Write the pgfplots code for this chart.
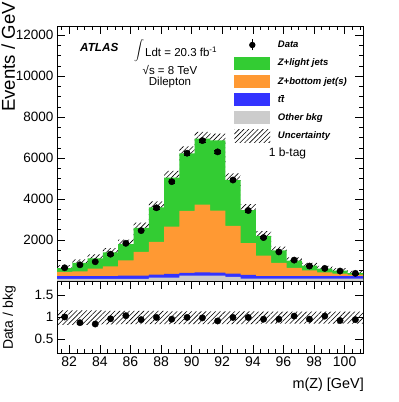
\documentclass[border=0pt]{standalone}
\usepackage{pgfplots}
\usepackage{pgfplotstable}
\pgfplotsset{compat=1.18}
\usepackage{fontspec}
\setmainfont{Liberation Sans}
\usetikzlibrary{patterns.meta}
\usepgfplotslibrary{fillbetween}

\definecolor{zlight}{RGB}{51,204,51}
\definecolor{zbot}{RGB}{255,153,51}
\definecolor{ttb}{RGB}{51,51,255}
\definecolor{oth}{RGB}{204,204,204}
\tikzset{hatch/.style={pattern={Lines[angle=45,distance=3.4pt,line width=0.6pt]}, pattern color=black}}

% bin left edges, stacked (cumulative) tops, uncertainty band
\pgfplotstableread{
x     tot  orng blue grey up   lo
81.2  625  446  233  107  775  475
82.2  880  475  233  107  1050 710
83.2  1110 606  233  107  1300 920
84.2  1400 718  233  107  1600 1200
85.2  1800 1009 267  107  2020 1580
86.2  2590 1416 267  107  2850 2330
87.2  3590 1916 315  170  3890 3290
88.2  5050 2658 350  170  5380 4720
89.2  6230 3419 398  267  6570 5890
90.2  6950 3725 427  267  7280 6620
91.2  6870 3434 412  267  7200 6540
92.2  4930 2692 364  204  5250 4610
93.2  3460 1853 300  121  3750 3170
94.2  2200 1237 233  121  2430 1970
95.2  1490 883  233  121  1680 1300
96.2  990  640  233  121  1150 830
97.2  750  524  233  121  890  610
98.2  605  427  233  121  735  475
99.2  505  364  233  121  625  385
100.2 385  315  233  121  495  275
101.2 385  315  233  121  495  275
}\mc

\pgfplotstableread{
xc    d    e   r
81.7  645  25  1.00
82.7  790  28  0.87
83.7  940  31  0.84
84.7  1310 36  0.96
85.7  1840 43  1.03
86.7  2460 50  0.94
87.7  3575 60  0.99
88.7  4850 70  0.95
89.7  6240 79  0.99
90.7  6855 83  0.98
91.7  6305 79  0.91
92.7  4930 70  0.99
93.7  3440 59  0.99
94.7  2120 46  0.95
95.7  1420 38  0.95
96.7  1020 32  1.02
97.7  730  27  0.95
98.7  615  25  1.02
99.7  485  22  0.92
100.7 373  19  0.94
}\dat

\pgfplotstableread{
x     rup  rlo
81.2  1.15 0.82
82.2  1.15 0.82
83.2  1.15 0.83
84.2  1.14 0.83
85.2  1.14 0.84
86.2  1.14 0.84
87.2  1.14 0.84
88.2  1.13 0.84
89.2  1.13 0.84
90.2  1.13 0.84
91.2  1.13 0.84
92.2  1.13 0.84
93.2  1.13 0.84
94.2  1.12 0.85
95.2  1.12 0.85
96.2  1.12 0.85
97.2  1.12 0.85
98.2  1.12 0.85
99.2  1.12 0.85
100.2 1.12 0.85
101.2 1.12 0.85
}\rat

\pgfplotsset{
  rootstyle/.style={
    scale only axis, width=306pt,
    xmin=81.2, xmax=101.2,
    xtick={82,84,86,88,90,92,94,96,98,100},
    minor xtick={81.5,82,...,101},
    tick align=inside,
    major tick length=8pt, minor tick length=4pt,
    tick style={black, line width=0.6pt},
    axis line style={line width=0.8pt},
    scaled y ticks=false, scaled x ticks=false,
    /pgf/number format/assume math mode=true,
    clip=true,
  }
}

\begin{document}
\begin{tikzpicture}

\begin{axis}[rootstyle,
  at={(57pt,121pt)}, anchor=south west, height=255pt,
  ymin=0, ymax=12450,
  xticklabels={},
  ytick={0,2000,4000,6000,8000,10000,12000},
  yticklabels={,2000,4000,6000,8000,10000,12000},
  minor ytick={0,500,...,12000},
  yticklabel style={font=\fontsize{13.5}{14}\selectfont},
  legend cell align=left,
  legend style={at={(axis description cs:0.5794,0.951)}, anchor=north west,
    draw=none, fill=none, inner sep=0pt, outer sep=0pt,
    row sep=5.2pt,
    font=\fontsize{9.5}{11}\selectfont\bfseries\itshape,
    nodes={inner sep=0pt},
    /tikz/every odd column/.append style={column sep=7.6pt}},
]
\addplot[const plot, fill=zlight, draw=none, forget plot] table[x=x,y=tot]{\mc} \closedcycle;
\addplot[const plot, fill=zbot, draw=none, forget plot] table[x=x,y=orng]{\mc} \closedcycle;
\addplot[const plot, fill=ttb, draw=none, forget plot] table[x=x,y=blue]{\mc} \closedcycle;
\addplot[const plot, fill=oth, draw=none, forget plot] table[x=x,y=grey]{\mc} \closedcycle;
\addplot[name path=up, const plot, draw=none, forget plot] table[x=x,y=up]{\mc};
\addplot[name path=lo, const plot, draw=none, forget plot] table[x=x,y=lo]{\mc};
\addplot[hatch, draw=none, forget plot] fill between[of=up and lo];
\addplot[only marks, mark=*, mark size=3.2pt, black, forget plot,
  error bars/.cd, y dir=both, y explicit, error bar style={line width=0.8pt}]
  table[x=xc, y=d, y error=e]{\dat};

\addlegendimage{legend image code/.code={\path[draw=none,fill=none] (0pt,-6.5pt) rectangle (36pt,6.5pt); \draw[black, line width=0.8pt] (18pt,-5.5pt)--(18pt,5.5pt); \fill[black, draw=none] (18pt,0pt) circle (3.2pt);}}
\addlegendentry{Data}
\addlegendimage{legend image code/.code={\fill[zlight, draw=none] (0pt,-6.5pt) rectangle (36pt,6.5pt);}}
\addlegendentry{Z+light jets}
\addlegendimage{legend image code/.code={\fill[zbot, draw=none] (0pt,-6.5pt) rectangle (36pt,6.5pt);}}
\addlegendentry{Z+bottom jet(s)}
\addlegendimage{legend image code/.code={\fill[ttb, draw=none] (0pt,-6.5pt) rectangle (36pt,6.5pt);}}
\addlegendentry{t$\overline{\mbox{t}}$}
\addlegendimage{legend image code/.code={\fill[oth, draw=none] (0pt,-6.5pt) rectangle (36pt,6.5pt);}}
\addlegendentry{Other bkg}
\addlegendimage{legend image code/.code={\path[hatch, draw=none] (0pt,-6.5pt) rectangle (36pt,6.5pt);}}
\addlegendentry{Uncertainty}
\end{axis}

\begin{axis}[rootstyle,
  at={(57pt,49pt)}, anchor=south west, height=72pt,
  ymin=0.18, ymax=1.82,
  xticklabels={82,84,86,88,90,92,94,96,98,100},
  ytick={0.5,1,1.5}, yticklabels={0.5,1,1.5},
  xticklabel style={font=\fontsize{14}{15}\selectfont},
  yticklabel style={font=\fontsize{13.5}{14}\selectfont},
]
\addplot[name path=rup, const plot, draw=none] table[x=x,y=rup]{\rat};
\addplot[name path=rlo, const plot, draw=none] table[x=x,y=rlo]{\rat};
\addplot[hatch, draw=none] fill between[of=rup and rlo];
\addplot[only marks, mark=*, mark size=3.2pt, black] table[x=xc, y=r]{\dat};
\end{axis}

% texts
\node[anchor=base west, font=\fontsize{11.7}{12}\selectfont\bfseries\itshape, inner sep=0pt] at (80pt,350.3pt) {ATLAS};
\node[anchor=center, inner sep=0pt, font=\fontsize{12.5}{13}\selectfont] at (139pt,351pt) {$\displaystyle\int$};
\node[anchor=base west, inner sep=0pt, font=\fontsize{11.5}{12}\selectfont] at (145pt,345.5pt) {Ldt = 20.3 fb\textsuperscript{-1}};
\node[anchor=base, inner sep=0pt, font=\fontsize{11.5}{12}\selectfont] at (170pt,327pt) {√s = 8 TeV};
\node[anchor=base, inner sep=0pt, font=\fontsize{11.5}{12}\selectfont] at (170pt,316.5pt) {Dilepton};
\node[anchor=base, inner sep=0pt, font=\fontsize{12}{13}\selectfont] at (287.5pt,245pt) {1 b-tag};
\node[rotate=90, anchor=base west, inner sep=0pt, font=\fontsize{18.6}{20}\selectfont] at (15pt,290pt) {Events / GeV};
\node[rotate=90, anchor=base, inner sep=0pt, font=\fontsize{14}{15}\selectfont] at (13pt,84pt) {Data / bkg};
\node[anchor=base east, inner sep=0pt, font=\fontsize{14.4}{15}\selectfont] at (364pt,13.7pt) {m(Z) [GeV]};

\pgfresetboundingbox
\useasboundingbox (0,0) rectangle (399pt,402pt);
\end{tikzpicture}
\end{document}
